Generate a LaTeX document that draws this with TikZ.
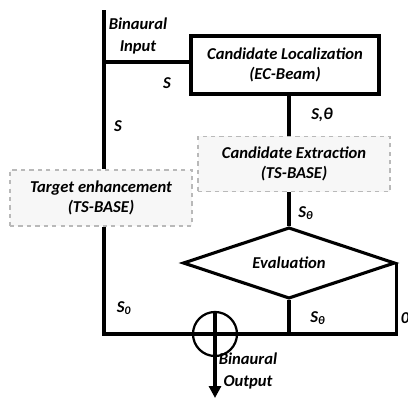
\documentclass[tikz,border=0pt]{standalone}
\usepackage{fontspec}
\setmainfont{Carlito}
\usetikzlibrary{positioning, arrows.meta, shapes.geometric, calc}

\begin{document}
\begin{tikzpicture}[
  x=0.025cm, y=-0.025cm,
  font=\bfseries\itshape\fontsize{11.8}{14}\selectfont,
  mainbox/.style={draw=black, line width=2.2pt, minimum width=4.7cm,
                  minimum height=1.45cm, align=center, inner sep=0pt},
  softbox/.style={draw=gray!55, dashed, line width=0.8pt, fill=gray!6,
                  align=center, inner sep=0pt},
  decision/.style={diamond, draw=black, line width=2.2pt, aspect=3,
                   minimum width=5.3cm, minimum height=1.78cm, inner sep=0pt},
  adder/.style={circle, draw=black, line width=1.6pt, minimum size=1.1cm, inner sep=0pt},
  wire/.style={line width=2.2pt},
  arr/.style={-{Triangle[length=3mm, width=3mm]}, line width=2.2pt},
]
  \useasboundingbox (0,0) rectangle (408,401);

  \node[mainbox] (loc) at (285,65) {Candidate Localization\\(EC-Beam)};
  \node[softbox, minimum width=4.8cm, minimum height=1.375cm] (extr) at (294,164)
       {Candidate Extraction\\(TS-BASE)};
  \node[softbox, minimum width=4.55cm, minimum height=1.4cm] (enh) at (101,198)
       {Target enhancement\\(TS-BASE)};
  \node[decision] (eval) at (289,263) {Evaluation};
  \node[adder] (sum) at (215,334) {};

  \coordinate (in) at (104,10);
  \coordinate (split) at (104,62);
  \coordinate (join) at (104,334);
  \coordinate (out) at (215,398);

  % signal paths
  \draw[wire] (in) -- (in |- enh.north);
  \draw[wire] (split) -- (split -| loc.west);
  \draw[wire] (enh.south -| in) -- (join) -- (eval.east |- join) -- (eval.east);
  \draw[wire] (loc.south -| eval.north) -- (extr.north -| eval.north);
  \draw[wire] (extr.south -| eval.north) -- (eval.north);
  \draw[wire] (eval.south) -- (eval.south |- join);
  \draw[wire] (sum.north) -- (sum.south);
  \draw[arr] (sum.south) -- (out);

  % labels
  \node[align=center] (inlbl) at (138,36) {Binaural\\[1pt]Input};
  \node (s1) at (167,83) {S};
  \node (s2) at (118,126) {S};
  \node (sth) at (322,115) {S,θ};
  \node (sth1) at (306,213) {S\textsubscript{θ}};
  \node (s0) at (124,308) {S\textsubscript{0}};
  \node (sth2) at (318,318) {S\textsubscript{θ}};
  \node (zero) at (405,318) {0};
  \node[align=center] (outlbl) at (248,371) {Binaural\\[1pt]Output};
\end{tikzpicture}
\end{document}
